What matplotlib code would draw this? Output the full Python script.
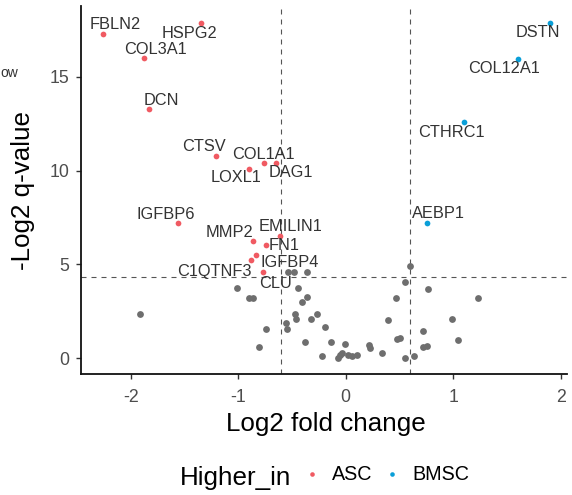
import matplotlib
matplotlib.use("Agg")
import matplotlib.pyplot as plt

plt.rcParams['font.family'] = ['Liberation Sans', 'DejaVu Sans']
plt.rcParams['axes.unicode_minus'] = False

# labelled genes (log2 fold change, -log2 q-value, group)
genes = ["FBLN2", "HSPG2", "COL3A1", "DCN", "CTSV", "LOXL1", "COL1A1", "DAG1",
         "DSTN", "COL12A1", "CTHRC1", "AEBP1", "IGFBP6", "MMP2", "EMILIN1",
         "FN1", "IGFBP4", "C1QTNF3", "CLU"]
gene_fc = [-2.26, -1.346, -1.879, -1.83, -1.204, -0.897, -0.76, -0.648,
           1.903, 1.60, 1.103, 0.756, -1.557, -0.86, -0.614,
           -0.744, -0.834, -0.884, -0.769]
gene_q = [17.28, 17.87, 15.97, 13.27, 10.77, 10.10, 10.40, 10.42,
          17.87, 15.92, 12.57, 7.22, 7.22, 6.25, 6.51,
          6.02, 5.52, 5.23, 4.60]
gene_group = ["ASC"] * 8 + ["BMSC"] * 4 + ["ASC"] * 7

# where the repelled labels ended up
label_x = [-2.146, -1.456, -1.774, -1.716, -1.32, -1.019, -0.769, -0.511,
           1.787, 1.475, 0.982, 0.865, -1.672, -1.084, -0.511,
           -0.569, -0.521, -1.222, -0.653]
label_y = [17.75, 17.32, 16.43, 13.73, 11.27, 9.62, 10.85, 9.90,
           17.37, 15.42, 12.04, 7.69, 7.67, 6.70, 7.01,
           5.99, 5.09, 4.64, 4.00]

# non significant genes
other_fc = [-1.014, -0.902, -0.865, -1.913, -0.739, -0.804, -0.558, -0.543,
            -0.532, -0.481, -0.357, -0.441, -0.357, -0.409, -0.474, -0.462,
            -0.267, -0.326, -0.193, -0.381, -0.137, -0.009, -0.22, -0.069,
            -0.05, -0.037, 0.024, 0.056, 0.105, 0.22, 0.226, 0.338,
            0.396, 0.468, 0.48, 0.505, 0.554, 0.552, 0.598, 0.638,
            0.763, 0.722, 0.716, 0.753, 0.992, 1.042, 1.233]
other_q = [3.76, 3.21, 3.21, 2.36, 1.54, 0.60, 1.86, 1.54,
           4.61, 4.61, 4.61, 3.76, 3.28, 3.01, 2.36, 2.11,
           2.36, 2.08, 1.67, 0.85, 0.88, 0.78, 0.11, 0.00,
           0.18, 0.27, 0.16, 0.12, 0.16, 0.72, 0.57, 0.27,
           2.04, 3.21, 1.01, 1.10, 0.00, 4.08, 4.92, 0.14,
           3.69, 1.45, 0.62, 0.65, 2.11, 0.97, 3.21]

fc_cut = 0.6
q_cut = 4.32
groups = ["ASC", "BMSC"]
colors = {"ASC": "#F05A62", "BMSC": "#0A9FD8"}

W, H = 572, 495
fig = plt.figure(figsize=(W / 100, H / 100), dpi=100)
ax = fig.add_axes([81 / W, 1 - 374 / H, 486 / W, 368 / H])

ax.scatter(other_fc, other_q, s=24, color="#6e6e6e", linewidths=0, zorder=2)

handles = []
for g in groups:
    xs = [x for x, gr in zip(gene_fc, gene_group) if gr == g]
    ys = [y for y, gr in zip(gene_q, gene_group) if gr == g]
    h = ax.scatter(xs, ys, s=17, color=colors[g], linewidths=0, zorder=3, label=g)
    handles.append(h)

for name, lx, ly in zip(genes, label_x, label_y):
    ax.text(lx, ly, name, fontsize=11.8, color="#333333", ha="center", va="center", zorder=4)

dash = dict(color="#555555", lw=0.8, dashes=(4.5, 4.5), zorder=1)
ax.axvline(-fc_cut, **dash)
ax.axvline(fc_cut, **dash)
ax.axhline(q_cut, **dash)

ax.set_xlim(-2.462, 2.059)
ax.set_ylim(-0.836, 18.76)
ax.set_xticks([-2, -1, 0, 1, 2])
ax.set_yticks([0, 5, 10, 15])
for s in ["top", "right"]:
    ax.spines[s].set_visible(False)
for s in ["left", "bottom"]:
    ax.spines[s].set_linewidth(1.3)
    ax.spines[s].set_color("#111111")
ax.tick_params(length=3.6, width=1.0, color="#333333", labelsize=12.8,
               labelcolor="#4d4d4d")
ax.tick_params(axis="x", pad=7)
ax.tick_params(axis="y", pad=5)

fig.text(326 / W, 1 - 424 / H, "Log2 fold change", fontsize=18.7, ha="center", va="center")
fig.text(23 / W, 1 - 190 / H, "-Log2 q-value", fontsize=18.7, rotation=90,
         ha="center", va="center")

fig.text(180 / W, 1 - 485 / H, "Higher_in", fontsize=18.7, ha="left", va="baseline")
fig.legend(handles=handles, labels=groups, loc="center left",
           bbox_to_anchor=(302.6 / W, 1 - 474 / H), ncol=2, frameon=False,
           fontsize=14.2, handlelength=1.0, handletextpad=0.5, columnspacing=0.5,
           borderpad=0, borderaxespad=0, markerscale=0.8)

fig.text(0.0, 1 - 77 / H, "ow", fontsize=10, color="#333333", ha="left", va="baseline")

fig.savefig("out.png", dpi=100)
